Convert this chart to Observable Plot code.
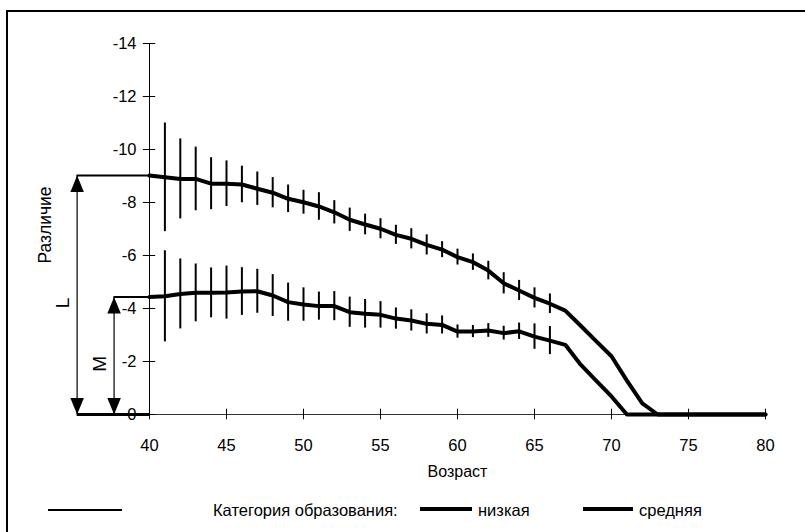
<!DOCTYPE html>
<html><head><meta charset="utf-8">
<script src="https://cdn.jsdelivr.net/npm/d3@7"></script>
<script src="https://cdn.jsdelivr.net/npm/@observablehq/plot@0.6"></script>
<style>
body{margin:0;background:#fff;font-family:"Liberation Sans",Arial,sans-serif;}
#wrap{position:relative;width:805px;height:532px;overflow:hidden;background:#fff;}
#frame{position:absolute;left:6px;top:10px;width:900px;height:600px;border-left:2px solid #000;border-top:2px solid #000;}
#chart{position:absolute;left:0;top:0;}
#legend{position:absolute;left:0;top:497px;width:805px;height:30px;font-size:16.5px;color:#000;}
#legend .it{position:absolute;top:0;line-height:26px;white-space:nowrap;}
#legend .ln{position:absolute;background:#000;}
</style>
</head><body>
<div id="wrap">
  <div id="frame"></div>
  <div id="chart"></div>
  <div id="legend"></div>
</div>
<script>
// ---- data ----
const lowAges   = [40,41,42,43,44,45,46,47,48,49,50,51,52,53,54,55,56,57,58,59,60,61,62,63,64,65,66,67,68,69,70,71,72,73,80];
const lowValues = [-9.02,-8.95,-8.89,-8.89,-8.71,-8.71,-8.68,-8.52,-8.37,-8.14,-8.01,-7.85,-7.63,-7.35,-7.17,-7.01,-6.78,-6.63,-6.40,-6.22,-5.94,-5.75,-5.43,-4.95,-4.68,-4.40,-4.18,-3.92,-3.35,-2.77,-2.20,-1.28,-0.42,0,0];
const midAges   = [40,41,42,43,44,45,46,47,48,49,50,51,52,53,54,55,56,57,58,59,60,61,62,63,64,65,66,67,68,69,70,71,80];
const midValues = [-4.43,-4.46,-4.55,-4.59,-4.59,-4.60,-4.64,-4.65,-4.49,-4.24,-4.15,-4.09,-4.09,-3.86,-3.80,-3.76,-3.62,-3.55,-3.42,-3.38,-3.13,-3.13,-3.17,-3.07,-3.14,-2.94,-2.79,-2.63,-1.88,-1.28,-0.68,0,0];
const errAges   = [41,42,43,44,45,46,47,48,49,50,51,52,53,54,55,56,57,58,59,60,61,62,63,64,65,66];
const lowErr    = [2.05,1.51,1.20,0.98,0.86,0.69,0.63,0.57,0.52,0.45,0.52,0.44,0.44,0.39,0.38,0.36,0.38,0.38,0.30,0.30,0.31,0.35,0.40,0.38,0.38,0.37];
const midErr    = [1.72,1.32,1.09,0.94,1.00,0.90,0.83,0.79,0.72,0.63,0.53,0.55,0.57,0.54,0.50,0.40,0.40,0.38,0.34,0.25,0.23,0.26,0.26,0.31,0.48,0.53];
const xTicks    = [40,45,50,55,60,65,70,75,80];
const yTicks    = [0,-2,-4,-6,-8,-10,-12,-14];
const seriesNames = ["низкая","средняя"];
const markerNames = ["L","M"];
const markerAges  = [35.3, 37.7];   // where the L / M measuring arrows stand

// ---- tables ----
const lowRows = lowAges.map((a,i)=>({age:a, v:lowValues[i]}));
const midRows = midAges.map((a,i)=>({age:a, v:midValues[i]}));
const valAt = (ages, vals, a) => vals[ages.indexOf(a)];
const errRows = [
  ...errAges.map((a,i)=>({age:a, v:valAt(lowAges,lowValues,a), e:lowErr[i]})),
  ...errAges.map((a,i)=>({age:a, v:valAt(midAges,midValues,a), e:midErr[i]}))
];
const markers = markerNames.map((n,i)=>({name:n, age:markerAges[i], top:[lowValues[0], midValues[0]][i]}));

const arrowUp = {draw(ctx,size){const r=Math.sqrt(size/Math.PI);const h=2.2*r,w=0.9*r;ctx.moveTo(0,0);ctx.lineTo(-w,h);ctx.lineTo(w,h);ctx.closePath();}};
const arrowDown = {draw(ctx,size){const r=Math.sqrt(size/Math.PI);const h=2.2*r,w=0.9*r;ctx.moveTo(0,0);ctx.lineTo(-w,-h);ctx.lineTo(w,-h);ctx.closePath();}};

const x0 = xTicks[0], x1 = xTicks[xTicks.length-1];
const yMin = d3.min(yTicks), yZero = yTicks[0];

const chart = Plot.plot({
  width: 805, height: 480,
  marginLeft: 72, marginRight: 40, marginTop: 43, marginBottom: 66,
  x: {domain: [35, 80], axis: null},
  y: {domain: [0, -14], axis: null},
  style: {fontFamily: '"Liberation Sans",Arial,sans-serif', fontSize: "16px", color: "#000", background: "transparent", overflow: "visible"},
  marks: [
    // axes lines
    Plot.ruleX([x0], {y1: yZero, y2: yMin, stroke: "#000", strokeWidth: 1}),
    Plot.ruleY([yZero], {x1: x0, x2: x1, stroke: "#333", strokeWidth: 1}),
    Plot.ruleX(xTicks, {x: d=>d, y1: 0.2, y2: -0.2, stroke: "#000", strokeWidth: 1}),
    Plot.ruleY(yTicks, {y: d=>d, x1: x0-0.4, x2: x0+0.4, stroke: "#000", strokeWidth: 1}),
    Plot.text(xTicks, {x: d=>d, y: yZero, dy: 31, text: d=>String(d), fill: "#000", fontSize: 16.5}),
    Plot.text(yTicks, {x: x0, y: d=>d, dx: -13, text: d=>String(d), textAnchor: "end", fill: "#000", fontSize: 16.5}),
    Plot.text(["Возраст"], {x: d3.mean(xTicks), y: yZero, dy: 57, text: d=>d, fill: "#000", fontSize: 16}),
    Plot.text(["Различие"], {frameAnchor: "left", textAnchor: "middle", dx: -27, dy: -4, rotate: -90, text: d=>d, fill: "#000", fontSize: 17.5}),
    // error bars
    Plot.ruleX(errRows, {x: "age", y1: d=>d.v-d.e, y2: d=>d.v+d.e, stroke: "#000", strokeWidth: 2}),
    // series lines
    Plot.line(lowRows, {x: "age", y: "v", stroke: "#000", strokeWidth: 4, strokeLinejoin: "round"}),
    Plot.line(midRows, {x: "age", y: "v", stroke: "#000", strokeWidth: 4, strokeLinejoin: "round"}),
    // L / M measuring annotations
    Plot.ruleY(markers, {y: "top", x1: "age", x2: x0, stroke: "#000", strokeWidth: 2}),
    Plot.ruleY([yZero], {x1: markerAges[0], x2: x0, stroke: "#000", strokeWidth: 3}),
    Plot.ruleX(markers, {x: "age", y1: yZero, y2: "top", stroke: "#000", strokeWidth: 1.2}),
    Plot.dot(markers, {x: "age", y: "top", symbol: arrowUp, r: 7.5, fill: "#000", stroke: null}),
    Plot.dot(markers, {x: "age", y: yZero, symbol: arrowDown, r: 7.5, fill: "#000", stroke: null}),
    Plot.text(markers, {x: "age", y: d=>d.top/2, dx: -14, dy: 8, rotate: -90, text: "name", fill: "#000", fontSize: 19})
  ]
});
document.getElementById("chart").appendChild(chart);

// ---- legend (HTML, below the plot area) ----
const lg = document.getElementById("legend");
lg.innerHTML = `
  <div class="ln" style="left:48px;top:12px;width:74px;height:1.5px"></div>
  <div class="it" style="left:213px">Категория образования:</div>
  <div class="ln" style="left:420px;top:10px;width:52px;height:3.5px"></div>
  <div class="it" style="left:478px">${seriesNames[0]}</div>
  <div class="ln" style="left:583px;top:10px;width:50px;height:3.5px"></div>
  <div class="it" style="left:639px">${seriesNames[1]}</div>`;
</script>
</body></html>
